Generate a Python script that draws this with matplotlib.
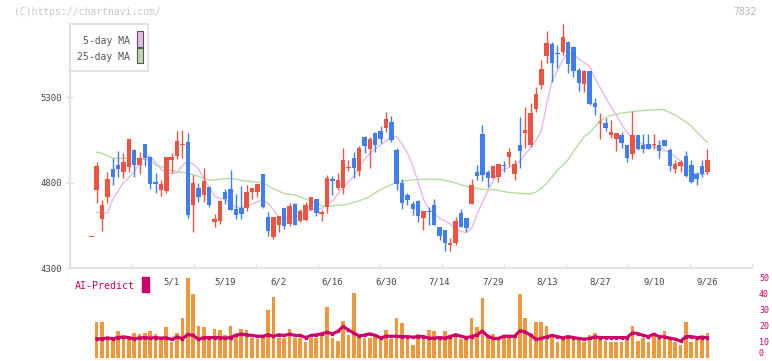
import numpy as np
import matplotlib.pyplot as plt
from matplotlib.patches import Rectangle

plt.rcParams['font.family'] = ['DejaVu Sans Mono']

# daily candles (trading-day index 0..115), yen
opens = [4480, 4756, 4588, 4717, 4879, 4902, 4861, 4892, 4990, 4904,
         5025, 4949, 4803, 4756, 4752, 4933, 4955, 5020, 5037, 4670,
         4768, 4727, 4774, 4571, 4577, 4743, 4762, 4645, 4649, 4651,
         4744, 4746, 4850, 4598, 4481, 4551, 4651, 4557, 4674, 4577,
         4581, 4639, 4703, 4618, 4654, 4820, 4770, 4770, 4883, 4943,
         4867, 5066, 4996, 5089, 5101, 5119, 5154, 4990, 4797, 4727,
         4674, 4692, 4592, 4636, 4668, 4540, 4522, 4434, 4448, 4621,
         4591, 4676, 4860, 5084, 4860, 4828, 4834, 4902, 4951, 4850,
         5019, 5091, 5019, 5230, 5370, 5540, 5610, 5557, 5563, 5622,
         5592, 5458, 5376, 5452, 5265, 5148, 5148, 5078, 5054, 5078,
         5019, 4967, 5078, 5019, 5025, 5019, 5019, 5048, 4990, 4879,
         4896, 4955, 4902, 4851, 4896, 4863]
highs = [4480, 4920, 4698, 4861, 4945, 4984, 4972, 5054, 4996, 4978,
         5025, 4949, 4856, 4815, 4949, 4974, 5101, 5107, 5088, 4844,
         4799, 4885, 4774, 4616, 4692, 4760, 4873, 4733, 4780, 4785,
         4768, 4791, 4850, 4627, 4598, 4604, 4651, 4678, 4678, 4645,
         4684, 4715, 4703, 4639, 4844, 4840, 4854, 5002, 4932, 4978,
         5013, 5072, 5066, 5095, 5130, 5212, 5189, 5002, 4820, 4739,
         4692, 4698, 4633, 4657, 4703, 4540, 4522, 4475, 4600, 4645,
         4591, 4820, 4902, 5136, 4875, 4896, 4908, 4926, 5003, 4932,
         5185, 5242, 5267, 5358, 5516, 5686, 5622, 5604, 5727, 5628,
         5598, 5470, 5458, 5452, 5294, 5206, 5177, 5165, 5089, 5095,
         5019, 5218, 5078, 5084, 5084, 5084, 5048, 5048, 5002, 4932,
         4932, 4984, 4932, 4863, 4932, 4996]
lows = [4480, 4678, 4518, 4678, 4785, 4834, 4825, 4861, 4834, 4850,
        4898, 4762, 4740, 4723, 4740, 4854, 4937, 4941, 4594, 4512,
        4688, 4688, 4655, 4541, 4557, 4674, 4641, 4586, 4586, 4633,
        4702, 4717, 4651, 4487, 4471, 4512, 4530, 4545, 4551, 4571,
        4577, 4639, 4606, 4577, 4623, 4727, 4756, 4734, 4867, 4826,
        4840, 4971, 4886, 4978, 5031, 5095, 5037, 4756, 4645, 4668,
        4610, 4571, 4522, 4551, 4551, 4464, 4399, 4399, 4434, 4541,
        4512, 4676, 4815, 4810, 4775, 4828, 4805, 4861, 4896, 4816,
        4886, 5003, 5009, 5212, 5347, 5499, 5388, 5470, 5546, 5440,
        5415, 5335, 5329, 5253, 5195, 5054, 5101, 5060, 4984, 5002,
        4920, 4937, 4990, 4972, 4996, 4996, 4943, 5013, 4867, 4856,
        4861, 4834, 4799, 4787, 4834, 4851]
closes = [4480, 4896, 4668, 4820, 4834, 4879, 4920, 5054, 4904, 4943,
          4945, 4793, 4793, 4791, 4949, 4949, 5043, 5025, 4610, 4797,
          4717, 4809, 4668, 4587, 4692, 4702, 4641, 4612, 4618, 4744,
          4768, 4791, 4658, 4516, 4598, 4604, 4545, 4663, 4551, 4633,
          4668, 4715, 4623, 4627, 4826, 4809, 4815, 4932, 4891, 4885,
          5002, 5013, 5054, 5019, 5054, 5171, 5048, 4791, 4680, 4698,
          4645, 4604, 4633, 4630, 4551, 4487, 4446, 4446, 4575, 4541,
          4536, 4785, 4840, 4844, 4828, 4896, 4908, 4896, 4980, 4908,
          4986, 5107, 5208, 5318, 5464, 5616, 5501, 5551, 5651, 5493,
          5452, 5382, 5452, 5259, 5242, 5154, 5119, 5095, 5089, 5031,
          4943, 5078, 4996, 4996, 4996, 5025, 4984, 5013, 4896, 4908,
          4920, 4840, 4805, 4822, 4851, 4932]

# moving averages, days 1..115
ma5 = [4626, 4618, 4622, 4701, 4750, 4801, 4828, 4864, 4916, 4947,
       4955, 4918, 4878, 4857, 4854, 4856, 4900, 4926, 4908, 4880,
       4826, 4772, 4721, 4706, 4702, 4676, 4655, 4654, 4661, 4672,
       4687, 4698, 4678, 4640, 4599, 4582, 4589, 4600, 4604, 4622,
       4640, 4644, 4649, 4671, 4691, 4733, 4770, 4803, 4838, 4892,
       4936, 4970, 4996, 5020, 5045, 5066, 5068, 5025, 4975, 4896,
       4803, 4703, 4645, 4618, 4592, 4575, 4557, 4532, 4513, 4508,
       4534, 4612, 4684, 4750, 4813, 4860, 4878, 4888, 4903, 4924,
       4965, 5003, 5045, 5101, 5257, 5395, 5454, 5517, 5557, 5550,
       5522, 5502, 5479, 5409, 5354, 5297, 5243, 5193, 5140, 5095,
       5051, 5037, 5024, 5015, 5010, 5002, 4988, 4973, 4951, 4924,
       4880, 4857, 4850, 4850, 4850]
ma25 = [4977, 4971, 4955, 4942, 4942, 4942, 4940, 4939, 4937, 4936,
        4929, 4902, 4894, 4884, 4871, 4864, 4859, 4854, 4845, 4836,
        4823, 4815, 4815, 4819, 4823, 4823, 4819, 4813, 4808, 4805,
        4801, 4797, 4780, 4764, 4750, 4734, 4731, 4727, 4716, 4703,
        4692, 4680, 4663, 4663, 4664, 4667, 4668, 4676, 4684, 4693,
        4705, 4717, 4740, 4758, 4773, 4788, 4799, 4807, 4812, 4816,
        4818, 4818, 4819, 4819, 4818, 4812, 4806, 4797, 4787, 4778,
        4770, 4764, 4761, 4760, 4758, 4753, 4747, 4741, 4739, 4737,
        4734, 4734, 4744, 4766, 4795, 4832, 4871, 4902, 4934, 4981,
        5025, 5069, 5092, 5126, 5161, 5180, 5192, 5199, 5206, 5211,
        5214, 5218, 5221, 5223, 5225, 5227, 5225, 5209, 5195, 5174,
        5154, 5130, 5095, 5063, 5035]

# AI-Predict panel, days 1..115
ai_bars = [21.9, 22.5, 12.5, 11.5, 16.3, 11.3, 12.5, 15.6, 14.4, 15.6,
           16.3, 14.4, 11.3, 18.8, 10.0, 15.6, 25.0, 50.0, 40.0, 19.4,
           18.8, 11.3, 18.1, 16.9, 13.8, 19.4, 15.0, 18.1, 17.5, 11.9,
           11.3, 13.1, 29.4, 38.1, 12.5, 11.9, 18.1, 12.5, 11.9, 10.0,
           11.9, 11.9, 14.4, 31.5, 12.5, 10.6, 23.1, 13.8, 40.6, 13.8,
           11.9, 11.9, 13.1, 11.9, 16.9, 11.3, 25.0, 21.3, 11.3, 8.1,
           15.0, 13.1, 16.9, 16.3, 13.1, 16.3, 13.8, 15.6, 11.3, 13.1,
           25.0, 18.8, 36.9, 13.8, 14.4, 11.9, 13.1, 12.5, 13.1, 39.4,
           24.4, 15.6, 22.5, 22.5, 20.0, 15.0, 9.4, 12.5, 13.1, 12.5,
           11.3, 9.4, 13.8, 15.6, 12.5, 10.6, 10.0, 9.4, 9.4, 11.3,
           19.4, 10.6, 11.9, 9.4, 13.8, 11.3, 16.3, 12.5, 10.0, 8.1,
           21.9, 9.4, 11.3, 13.8, 15.6]
ai_line = [11.7, 11.7, 12.3, 11.7, 12.5, 12.9, 12.5, 11.7, 12.3, 12.5,
           12.1, 12.5, 12.1, 12.3, 11.3, 12.9, 11.7, 14.4, 13.8, 11.3,
           12.5, 12.5, 12.5, 12.5, 12.1, 12.5, 14.0, 14.6, 14.2, 13.8,
           13.3, 13.3, 14.2, 13.3, 14.2, 13.8, 14.6, 13.8, 13.8, 12.5,
           13.8, 14.2, 14.8, 15.8, 14.8, 16.3, 19.4, 17.3, 15.2, 13.5,
           14.0, 14.8, 13.8, 12.3, 13.3, 13.3, 13.3, 13.1, 13.1, 12.7,
           13.1, 13.1, 12.1, 12.1, 12.5, 12.1, 13.1, 14.2, 13.3, 12.5,
           13.1, 14.2, 16.5, 13.3, 11.9, 11.9, 13.3, 13.3, 13.3, 16.7,
           16.0, 14.0, 11.3, 11.9, 12.9, 13.8, 13.1, 12.3, 13.1, 12.5,
           11.9, 11.5, 11.9, 12.9, 12.5, 12.5, 12.5, 12.5, 12.5, 12.5,
           15.4, 15.0, 13.8, 13.1, 14.6, 13.1, 12.9, 12.1, 11.5, 10.2,
           13.1, 13.1, 12.5, 12.5, 12.5]

date_labels = ['5/1', '5/19', '6/2', '6/16', '6/30', '7/14', '7/29',
               '8/13', '8/27', '9/10', '9/26']
date_pos = [15, 25, 35, 45, 55, 65, 75, 85, 95, 105, 115]

RED = '#ef5340'
BLUE = '#3f7ef0'
CRIMSON = '#cc0066'
GRID = '#dedede'

W, H = 772, 361
fig = plt.figure(figsize=(W / 100, H / 100), dpi=100)


def fx(px):
    return px / W


def fy(py):
    return 1 - py / H


xlim = (-3.98, 123.33)

# ---- price panel
ax = fig.add_axes([fx(70), fy(268), fx(752) - fx(70), fy(24) - fy(268)])
ax.set_xlim(*xlim)
ax.set_ylim(4300, 5727)

days = np.arange(len(opens))
o = np.array(opens, float)
c = np.array(closes, float)
cols = [RED if cc >= oo else BLUE for oo, cc in zip(o, c)]

ax.plot(days[1:], ma25, color='#b6dca6', lw=1.0, zorder=1)
ax.plot(days[1:], ma5, color='#e9b6ec', lw=1.0, zorder=1)

ax.vlines(days, lows, highs, colors=cols, lw=1.0, zorder=2, clip_on=False)
body_h = np.maximum(np.abs(c - o), 6)
body_b = np.minimum(o, c)
ax.bar(days, body_h, bottom=body_b, width=0.82, color=cols, zorder=3,
       clip_on=False)

for s in ['top', 'right']:
    ax.spines[s].set_visible(False)
for s in ['left', 'bottom']:
    ax.spines[s].set_color('#e2e2e2')
    ax.spines[s].set_linewidth(1.5)

ax.set_yticks([4300, 4800, 5300])
ax.tick_params(axis='y', direction='inout', length=6, width=1, color=GRID,
               labelsize=6.5, labelcolor='#444444', pad=3)
ax.set_xticks(date_pos)
ax.set_xticklabels(date_labels)
ax.set_xticks(np.linspace(xlim[0], xlim[1], 12), minor=True)
ax.tick_params(axis='x', which='major', length=0, labelsize=6.5,
               labelcolor='#444444', pad=7)
ax.tick_params(axis='x', which='minor', direction='in', length=3,
               width=1, color=GRID)

# ---- AI-Predict panel
ax2 = fig.add_axes([fx(70), fy(357.5), fx(752) - fx(70), fy(277.5) - fy(357.5)])
ax2.set_xlim(*xlim)
ax2.set_ylim(0, 50)
ax2.patch.set_alpha(0)
idx = days[1:]
ax2.bar(idx, ai_bars, width=0.68, color='#f0963c', zorder=1)
ax2.plot(idx, ai_line, color=CRIMSON, lw=2.2, marker='s', ms=2.0, zorder=2)
for s in ax2.spines.values():
    s.set_visible(False)
ax2.set_xticks([])
ax2.yaxis.tick_right()
ax2.set_yticks(range(0, 51, 10))
ax2.tick_params(axis='y', length=0, labelsize=6, labelcolor=CRIMSON, pad=5)
for lab in ax2.get_yticklabels():
    if lab.get_text() == '0':
        lab.set_va('bottom')

fig.text(fx(75), fy(286), 'AI-Predict', color=CRIMSON, fontsize=7.2,
         va='center', ha='left')
fig.patches.append(Rectangle((fx(142), fy(292)), fx(6.5), fy(277) - fy(292),
                             transform=fig.transFigure, color=CRIMSON))

# ---- legend box
fig.patches.append(Rectangle((fx(70), fy(71)), fx(78), fy(24) - fy(71),
                             transform=fig.transFigure, facecolor='white',
                             edgecolor='#dcdcdc', lw=1.2, zorder=5))
fig.text(fx(130), fy(41), '5-day MA', color='#555555', fontsize=7,
         ha='right', va='center', zorder=6)
fig.text(fx(130), fy(57.5), '25-day MA', color='#555555', fontsize=7,
         ha='right', va='center', zorder=6)
fig.patches.append(Rectangle((fx(136.5), fy(46.5)), fx(6), fy(31) - fy(46.5),
                             transform=fig.transFigure, facecolor='#ecb8ee',
                             edgecolor='#555555', lw=0.8, zorder=6))
fig.patches.append(Rectangle((fx(136.5), fy(63)), fx(6), fy(48) - fy(63),
                             transform=fig.transFigure, facecolor='#b8dcaa',
                             edgecolor='#555555', lw=0.8, zorder=6))

fig.text(fx(14), fy(12), '(C)https://chartnavi.com/', color='#c8c8c8',
         fontsize=7, va='center', ha='left')
fig.text(fx(757), fy(12), '7832', color='#b4b4b4', fontsize=7,
         va='center', ha='right')

fig.savefig('out.png', dpi=100)
